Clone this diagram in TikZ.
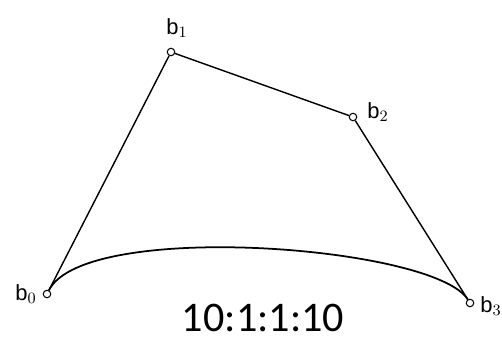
\documentclass[tikz,border=0pt]{standalone}
\usepackage{fontspec}
\setmainfont{Carlito}
\newfontfamily\lblfont{Liberation Sans}
\usepackage{tikz}
\usetikzlibrary{positioning}

\begin{document}
\begin{tikzpicture}[x=0.02cm,y=-0.02cm]
  \tikzstyle{pt}=[draw,circle,fill=white,inner sep=0pt,minimum size=0.15cm,
    line width=0.6pt]
  \tikzstyle{lbl}=[inner sep=0pt,font=\lblfont\fontsize{12.5}{14}\selectfont]
  \tikzstyle{edge}=[line width=0.8pt]
  \useasboundingbox (0,0) rectangle (502,339);
  % control points
  \node[pt] (b0) at (47,294) {};
  \node[pt] (b1) at (171,52) {};
  \node[pt] (b2) at (353,117) {};
  \node[pt] (b3) at (470,303) {};
  \node[lbl] (l0) at (26,294) {b$_0$};
  \node[lbl] (l1) at (177,28) {b$_1$};
  \node[lbl] (l2) at (378,112) {b$_2$};
  \node[lbl,anchor=west] (l3) at (480,306) {b$_3$};
  % polygon
  \draw[edge] (b0)--(b1);
  \draw[edge] (b1)--(b2);
  \draw[edge] (b2)--(b3);
  % rational curve, weights 10:1:1:10
  \coordinate (c1) at (85,219.5);
  \coordinate (c2) at (434,245.7);
  \draw[line width=1pt] (b0) .. controls (c1) and (c2) .. (b3);
  \node[inner sep=0pt] (ratio) at (263,318) {\fontsize{24}{28}\selectfont 10:1:1:10};
\end{tikzpicture}
\end{document}
